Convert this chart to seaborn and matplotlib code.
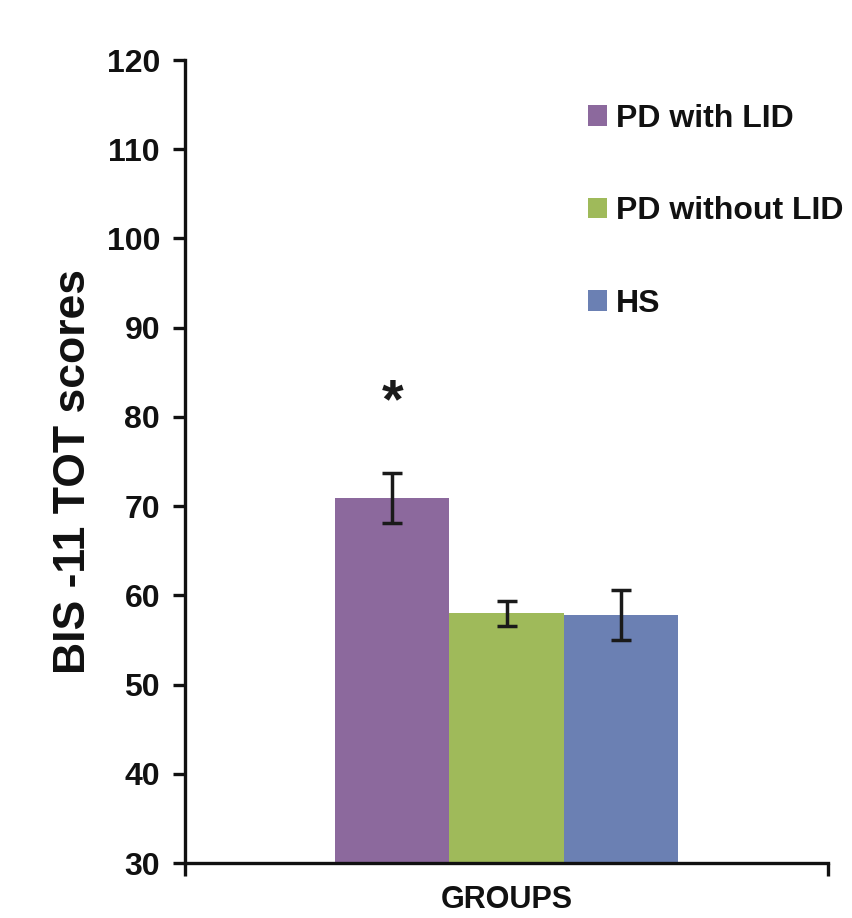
import matplotlib
matplotlib.use("Agg")
import matplotlib.pyplot as plt
import seaborn as sns
import pandas as pd

groups = ["PD with LID", "PD without LID", "HS"]
means = [70.9, 58.0, 57.8]
errors = [2.8, 1.4, 2.8]
colors = ["#8C699D", "#9FBA5A", "#6B80B3"]
category = "GROUPS"
yticks = [30, 40, 50, 60, 70, 80, 90, 100, 110, 120]
star_y = 81.5

sns.set_style("white")
plt.rcParams["font.family"] = ["Liberation Sans", "DejaVu Sans"]
plt.rcParams["font.weight"] = "bold"

df = pd.DataFrame({"cat": [category] * 3, "group": groups, "score": means})

fig = plt.figure(figsize=(8.53, 9.18), dpi=100)
ax = fig.add_axes([0.2169, 0.0599, 0.9707 - 0.2169, 0.9346 - 0.0599])

sns.barplot(data=df, x="cat", y="score", hue="group", hue_order=groups,
            palette=colors, width=0.533, gap=0, errorbar=None, ax=ax,
            saturation=1, linewidth=0, legend=True)

ax.set_xlim(-0.5, 0.5)
ax.set_ylim(30, 120)
ax.set_yticks(yticks)

bars = [p for p in ax.patches if p.get_height() > 0][:3]
for p, e in zip(bars, errors):
    cx = p.get_x() + p.get_width() / 2
    top = p.get_y() + p.get_height()
    ax.errorbar(cx, top, yerr=e, fmt="none", ecolor="#1a1a1a",
                elinewidth=2.5, capsize=7, capthick=2.5, zorder=5)

cx0 = bars[0].get_x() + bars[0].get_width() / 2
ax.text(cx0, star_y, "*", ha="center", va="center", fontsize=40,
        fontweight="bold", color="#1a1a1a")

for s in ["top", "right"]:
    ax.spines[s].set_visible(False)
for s in ["left", "bottom"]:
    ax.spines[s].set_linewidth(2.4)
    ax.spines[s].set_color("#111111")

ax.tick_params(axis="y", direction="out", length=9, width=2.4, labelsize=23,
               pad=9, left=True, colors="#111111")
ax.tick_params(axis="x", length=0, labelsize=22, pad=16, colors="#111111")
ax.set_xticks([-0.5, 0.5], minor=True)
ax.tick_params(axis="x", which="minor", direction="out", length=9, width=2.4,
               bottom=True, colors="#111111")
for lab in ax.get_yticklabels() + ax.get_xticklabels():
    lab.set_fontweight("bold")

ax.set_xlabel("")
ax.set_ylabel("BIS -11 TOT scores", fontsize=32, fontweight="bold",
              color="#111111")
ax.yaxis.set_label_coords(-0.141, 0.488)

ax.get_legend().remove()
handles, labels = ax.get_legend_handles_labels()
leg = fig.legend(handles[:3], labels[:3], loc="upper left",
                 bbox_to_anchor=(588 / 853, 1 - 104 / 918), frameon=False,
                 fontsize=23, handlelength=0.58, handleheight=0.62,
                 handletextpad=0.3, labelspacing=1.95, borderpad=0,
                 borderaxespad=0)
for t in leg.get_texts():
    t.set_fontweight("bold")
    t.set_color("#111111")

fig.savefig("out.png", dpi=100)
